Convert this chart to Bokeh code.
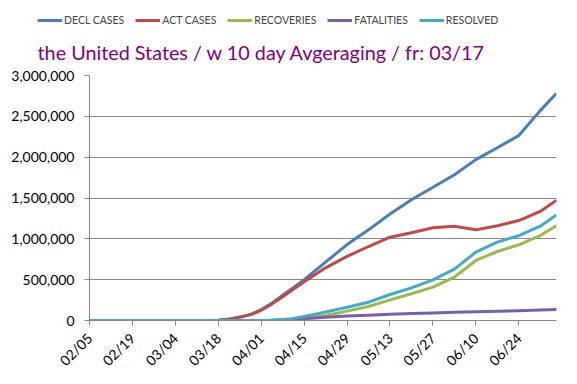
import pandas as pd
from bokeh.plotting import figure
from bokeh.layouts import column
from bokeh.models import (ColumnDataSource, FixedTicker, NumeralTickFormatter,
                          Legend, LegendItem, Label, Range1d)
from bokeh.embed import file_html
from bokeh.resources import INLINE
import math

# ---------------- data ----------------
dates = ["2020-02-05", "2020-03-18", "2020-03-22", "2020-03-26", "2020-03-29",
         "2020-04-01", "2020-04-04", "2020-04-08", "2020-04-11", "2020-04-15",
         "2020-04-22", "2020-04-29", "2020-05-06", "2020-05-13", "2020-05-20",
         "2020-05-27", "2020-06-03", "2020-06-10", "2020-06-17", "2020-06-24",
         "2020-07-01", "2020-07-06"]
decl_cases = [0, 3000, 20000, 50000, 80000, 135000, 200000, 310000, 390000, 500000,
              715000, 930000, 1110000, 1305000, 1478000, 1632000, 1785000, 1970000,
              2115000, 2265000, 2570000, 2770000]
act_cases = [0, 3000, 20000, 48000, 78000, 125000, 190000, 290000, 370000, 475000,
             645000, 785000, 906000, 1020000, 1074000, 1135000, 1155000, 1110000,
             1160000, 1224000, 1335000, 1465000]
recoveries = [0, 0, 0, 0, 0, 0, 2000, 6000, 12000, 30000, 61000, 115000, 171000,
              253000, 327000, 408000, 531000, 735000, 845000, 927000, 1040000, 1155000]
fatalities = [0, 0, 0, 0, 0, 0, 1000, 5000, 10000, 20000, 41000, 55000, 65000,
              78000, 86000, 92000, 100000, 108000, 114000, 120000, 128000, 136000]
resolved = [0, 0, 0, 0, 0, 1000, 3000, 11000, 22000, 50000, 105000, 163000, 224000,
            318000, 400000, 498000, 629000, 837000, 960000, 1040000, 1155000, 1286000]

tick_labels = ["02/05", "02/19", "03/04", "03/18", "04/01", "04/15", "04/29",
               "05/13", "05/27", "06/10", "06/24"]
y_ticks = [0, 500000, 1000000, 1500000, 2000000, 2500000, 3000000]

series_keys = ["decl", "act", "rec", "fat", "res"]
series_names = ["DECL CASES", "ACT CASES", "RECOVERIES", "FATALITIES", "RESOLVED"]
series_colors = ["#4A7EBB", "#BE4B48", "#98B954", "#7D60A0", "#46AAC5"]
title_text = "the United States / w 10 day Avgeraging / fr: 03/17"

# ---------------- build ----------------
start = pd.Timestamp(dates[0])
day = [(pd.Timestamp(d) - start).days for d in dates]
tick_pos = [(pd.Timestamp("2020-" + t.replace("/", "-")) - start).days for t in tick_labels]

src = ColumnDataSource(dict(day=day, decl=decl_cases, act=act_cases,
                            rec=recoveries, fat=fatalities, res=resolved))

FONT = "Lato"
GRAY = "#878787"
TOP_H = 64

# ---- header strip: legend + title ----
head = figure(width=577, height=TOP_H, output_backend="svg", toolbar_location=None,
              x_axis_type=None, y_axis_type=None, min_border=0,
              x_range=Range1d(-10, -9), y_range=Range1d(0, 1))
head.frame_align = False
head.outline_line_color = None
head.xgrid.grid_line_color = None
head.ygrid.grid_line_color = None
head_renderers = []
for key, col in zip(series_keys, series_colors):
    head_renderers.append(head.line("day", key, source=src, line_color=col, line_width=3))

legend = Legend(items=[LegendItem(label=n, renderers=[r]) for n, r in zip(series_names, head_renderers)],
                orientation="horizontal", location=(37, TOP_H - 27),
                glyph_width=25, glyph_height=14, label_standoff=2, spacing=11,
                padding=0, margin=0, border_line_color=None,
                background_fill_alpha=0, label_text_font=FONT,
                label_text_font_size="10.5px", label_height=14,
                label_text_baseline="middle")
head.add_layout(legend, "center")

title = Label(x=37, y=TOP_H - 51, x_units="screen", y_units="screen", text=title_text,
              text_font=FONT, text_font_size="19.8px", text_color="#800080",
              text_align="left", text_baseline="alphabetic")
head.add_layout(title)

# ---- chart ----
p = figure(width=577, height=384 - TOP_H, output_backend="svg", toolbar_location=None,
           min_border_left=89, min_border_right=21, min_border_top=75 - TOP_H,
           min_border_bottom=64,
           x_range=Range1d(0, day[-1] + 0.3), y_range=Range1d(0, 3000000))
p.frame_align = False
p.outline_line_color = None

for key, col in zip(series_keys, series_colors):
    p.line("day", key, source=src, line_color=col, line_width=3,
           line_join="round", line_cap="round")

p.xaxis.ticker = FixedTicker(ticks=tick_pos)
p.xaxis.major_label_overrides = {pos: lab for pos, lab in zip(tick_pos, tick_labels)}
p.xaxis.major_label_orientation = math.pi / 4
p.yaxis.ticker = FixedTicker(ticks=y_ticks)
p.yaxis.formatter = NumeralTickFormatter(format="0,0")
for ax in (p.xaxis, p.yaxis):
    ax.axis_line_color = GRAY
    ax.major_tick_line_color = GRAY
    ax.major_tick_out = 5
    ax.major_tick_in = 0
    ax.minor_tick_line_color = None
    ax.major_label_text_font = FONT
    ax.major_label_text_font_size = "14px"
    ax.major_label_text_color = "black"
p.yaxis.major_label_standoff = 10
p.xaxis.major_label_standoff = 10

p.xgrid.grid_line_color = None
p.ygrid.grid_line_color = GRAY
p.ygrid.grid_line_width = 1

layout = column(head, p, spacing=0)
open("out.html", "w").write(file_html(layout, INLINE))
